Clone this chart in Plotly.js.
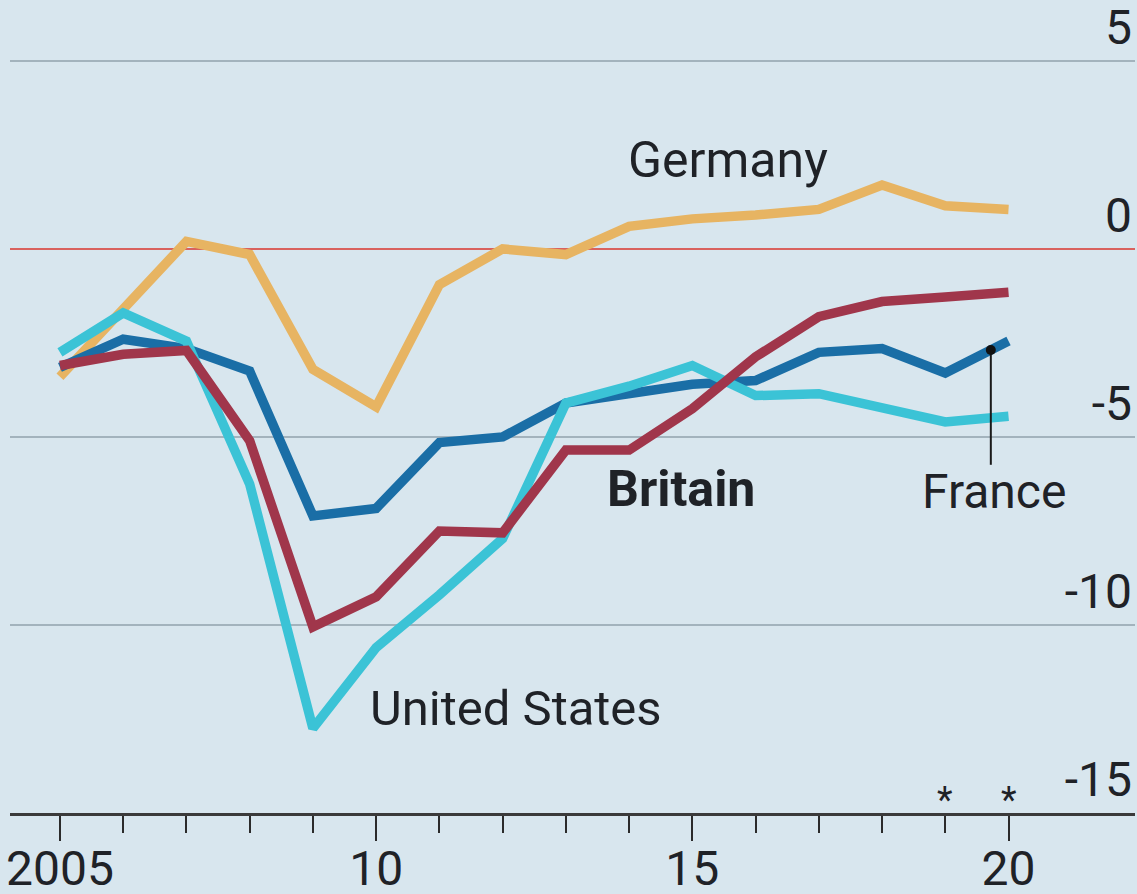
<!DOCTYPE html>
<html>
<head>
<meta charset="utf-8">
<script src="https://cdn.plot.ly/plotly-3.0.1.min.js"></script>
<style>
html,body{margin:0;padding:0;background:#d8e6ee;}
#chart{width:1137px;height:894px;}
</style>
</head>
<body>
<div id="chart"></div>
<script>
const years = [2005,2006,2007,2008,2009,2010,2011,2012,2013,2014,2015,2016,2017,2018,2019,2020];
const germany = [-3.4,-1.6,0.2,-0.15,-3.2,-4.2,-0.95,0.0,-0.15,0.6,0.8,0.9,1.05,1.7,1.15,1.05];
const france  = [-3.15,-2.4,-2.65,-3.25,-7.1,-6.9,-5.15,-5.0,-4.1,-3.85,-3.6,-3.5,-2.75,-2.65,-3.3,-2.45];
const britain = [-3.1,-2.8,-2.7,-5.1,-10.05,-9.25,-7.5,-7.55,-5.35,-5.35,-4.25,-2.87,-1.8,-1.4,-1.28,-1.15];
const usa     = [-2.75,-1.7,-2.45,-6.25,-12.75,-10.6,-9.2,-7.7,-4.1,-3.65,-3.1,-3.9,-3.85,-4.2,-4.6,-4.45];

const xTickVals = [2005,2010,2015,2020];
const xTickText = ["2005","10","15","20"];
const xMinorVals = [2006,2007,2008,2009,2011,2012,2013,2014,2016,2017,2018,2019];
const yTickVals = [-15,-10,-5,0,5];
const yTickText = ["-15","-10","-5","0","5"];
const forecastYears = [2019,2020];

const FONT = "Roboto, 'Open Sans', sans-serif";
const TXT = "#1f2227";

function line(y, color, name){
  return {x: years, y: y, type:'scatter', mode:'lines', name: name,
          line:{color: color, width: 9.5}, hoverinfo:'skip'};
}

const traces = [
  line(germany, '#e7b462', 'Germany'),
  line(france, '#1a6ea6', 'France'),
  line(usa, '#3bc3d6', 'United States'),
  line(britain, '#a0364b', 'Britain')
];

// leader for France label
const leaderX = 2019.72;
const leaderTop = france[14] + (france[15]-france[14])*0.72;

const annotations = [
  {x:2013.95, y:2.37, xref:'x', yref:'y', text:'Germany', showarrow:false, xanchor:'left', yanchor:'middle',
   font:{family:FONT, size:50, color:TXT}},
  {x:2013.62, y:-6.38, xref:'x', yref:'y', text:'<b>Britain</b>', showarrow:false, xanchor:'left', yanchor:'middle',
   font:{family:FONT, size:50, color:TXT}},
  {x:2009.87, y:-12.21, xref:'x', yref:'y', text:'United States', showarrow:false, xanchor:'left', yanchor:'middle',
   font:{family:FONT, size:49, color:TXT}},
  {x:2018.6, y:-6.44, xref:'x', yref:'y', text:'France', showarrow:false, xanchor:'left', yanchor:'middle',
   font:{family:FONT, size:48, color:TXT}}
];
forecastYears.forEach(function(yr){
  annotations.push({x:yr, y:-15, xref:'x', yref:'y', text:'*', showarrow:false, xanchor:'center', yanchor:'bottom',
    yshift:-10, font:{family:FONT, size:36, color:TXT}});
});

const layout = {
  width:1137, height:894,
  margin:{l:10, r:2, t:0, b:81},
  paper_bgcolor:'#d8e6ee', plot_bgcolor:'#d8e6ee',
  showlegend:false,
  xaxis:{
    range:[2004.21, 2022.0], tickmode:'array', tickvals:xTickVals, ticktext:xTickText,
    ticks:'outside', ticklen:25, tickwidth:2, tickcolor:'#2b2b2b',
    ticklabelstandoff:-14,
    showline:true, linecolor:'#3a3a3a', linewidth:3, showgrid:false, zeroline:false,
    tickfont:{family:FONT, size:48, color:TXT},
    minor:{tickmode:'array', tickvals:xMinorVals, ticks:'outside', ticklen:17, tickwidth:2, tickcolor:'#2b2b2b', showgrid:false},
    fixedrange:true
  },
  yaxis:{
    range:[-15, 6.62], side:'right', tickmode:'array', tickvals:yTickVals, ticktext:yTickText,
    ticklabelposition:'inside top', ticklabeloverflow:'allow', ticks:'', showline:false,
    showgrid:true, gridcolor:'#a3b3bd', gridwidth:2,
    zeroline:true, zerolinecolor:'#d9625e', zerolinewidth:2,
    tickfont:{family:FONT, size:48, color:TXT},
    fixedrange:true
  },
  shapes:[
    {type:'line', xref:'x', yref:'y', x0:leaderX, x1:leaderX, y0:leaderTop, y1:-5.74,
     line:{color:'#1a1a1a', width:2}},
    {type:'circle', xref:'x', yref:'y', xsizemode:'pixel', ysizemode:'pixel',
     xanchor:leaderX, yanchor:leaderTop, x0:-5, x1:5, y0:-5, y1:5,
     fillcolor:'#111', line:{width:0}}
  ],
  annotations: annotations
};

Plotly.newPlot('chart', traces, layout, {displayModeBar:false, staticPlot:true});
</script>
</body>
</html>
